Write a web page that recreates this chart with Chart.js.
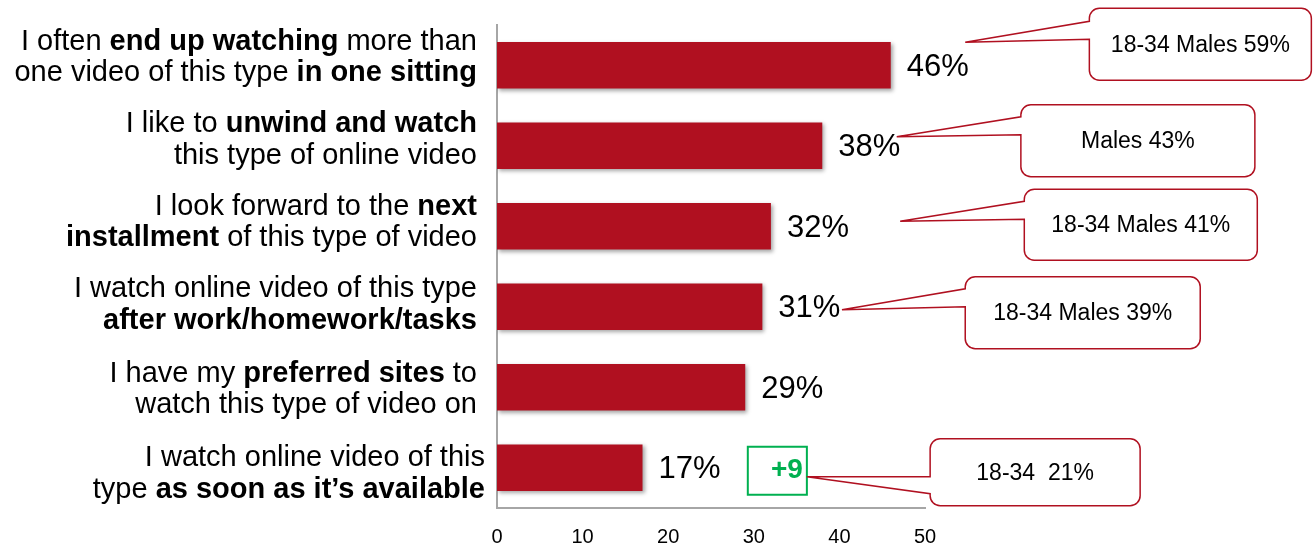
<!DOCTYPE html>
<html>
<head>
<meta charset="utf-8">
<script src="https://cdn.jsdelivr.net/npm/chart.js@4"></script>
<style>
    html, body { margin: 0; padding: 0; background: #fff; }
    #wrap { width: 1314px; height: 545px; }
</style>
</head>
<body>
<div id="wrap"><canvas id="surveyChart"></canvas></div>
<script>
// statements: "**" toggles bold, "|" breaks the line
const statements = [
    "I often **end up watching** more than|one video of this type **in one sitting**",
    "I like to **unwind and watch**|this type of online video",
    "I look forward to the **next**|**installment** of this type of video",
    "I watch online video of this type|**after work/homework/tasks**",
    "I have my **preferred sites** to|watch this type of video on",
    "I watch online video of this|type **as soon as it’s available**"
];
const percents = [46, 38, 32, 31, 29, 17];
const xTicks = [0, 10, 20, 30, 40, 50];
const subgroupNotes = ["18-34 Males 59%", "Males 43%", "18-34 Males 41%", "18-34 Males 39%", null, "18-34  21%"];
const changeNotes = [null, null, null, null, null, "+9"];

const RED = "#B01020";
const GREEN = "#00B050";
const FONT = "Arial, 'Liberation Sans', sans-serif";

// callout placement: x in axis units, y as offsets from the bar centre
const calloutLayout = [
    { tip: [54.7, -23], base: [-44, -26], box: [69.2, 222, -57, 72] },
    { tip: [46.7, -9],  base: [-29, -11], box: [61.2, 234, -41, 72] },
    { tip: [47.1, -5],  base: [-25, -7],  box: [61.6, 233, -37, 71] },
    { tip: [40.3, 3],   base: [-18, 0],   box: [54.7, 235, -30, 72] },
    null,
    { tip: [36.2, 9],   base: [9, 26],    box: [50.6, 210, -29, 67] }
];
const changeBox = { from: 29.3, to: 36.2, top: -21, bottom: 27 };
const labelNudge = [-8, -6, -4, -2, 2, 6];
const labelShift = [0, 0, 0, 0, 0, 8];

function drawRich(ctx, line, right, y, size) {
    const parts = line.split("**");
    const segs = parts.map((t, i) => ({ t, bold: i % 2 === 1 })).filter(s => s.t.length);
    let total = 0;
    segs.forEach(s => {
        ctx.font = (s.bold ? "bold " : "") + size + "px " + FONT;
        s.w = ctx.measureText(s.t).width;
        total += s.w;
    });
    let x = right - total;
    segs.forEach(s => {
        ctx.font = (s.bold ? "bold " : "") + size + "px " + FONT;
        ctx.fillText(s.t, x, y);
        x += s.w;
    });
}

function calloutPath(ctx, x, y, w, h, r, b1, b2, tx, ty) {
    ctx.beginPath();
    ctx.moveTo(x + r, y);
    ctx.lineTo(x + w - r, y);
    ctx.arcTo(x + w, y, x + w, y + r, r);
    ctx.lineTo(x + w, y + h - r);
    ctx.arcTo(x + w, y + h, x + w - r, y + h, r);
    ctx.lineTo(x + r, y + h);
    ctx.arcTo(x, y + h, x, y + h - r, r);
    ctx.lineTo(x, b2);
    ctx.lineTo(tx, ty);
    ctx.lineTo(x, b1);
    ctx.lineTo(x, y + r);
    ctx.arcTo(x, y, x + r, y, r);
    ctx.closePath();
}

const barShadow = {
    id: "barShadow",
    beforeDatasetDraw(chart) {
        const ctx = chart.ctx;
        ctx.save();
        ctx.shadowColor = "rgba(0,0,0,0.35)";
        ctx.shadowBlur = 4;
        ctx.shadowOffsetX = 2;
        ctx.shadowOffsetY = 2;
    },
    afterDatasetDraw(chart) {
        chart.ctx.restore();
    }
};

const annotations = {
    id: "annotations",
    afterDraw(chart) {
        const ctx = chart.ctx;
        const xs = chart.scales.x;
        const ys = chart.scales.y;
        ctx.save();
        ctx.fillStyle = "#000";
        ctx.textBaseline = "middle";

        statements.forEach((s, i) => {
            const cy = ys.getPixelForValue(i) + labelNudge[i];
            const lines = s.split("|");
            const lh = 31.5;
            lines.forEach((ln, k) => {
                const y = cy + (k - (lines.length - 1) / 2) * lh;
                drawRich(ctx, ln, 477 + labelShift[i], y, 29);
            });
        });

        percents.forEach((v, i) => {
            const cy = ys.getPixelForValue(i);
            ctx.font = "31px " + FONT;
            ctx.textAlign = "left";
            ctx.fillStyle = "#000";
            ctx.fillText(v + "%", xs.getPixelForValue(v) + 16, cy + 2);
        });

        changeNotes.forEach((note, i) => {
            if (!note) return;
            const cy = ys.getPixelForValue(i);
            const x1 = xs.getPixelForValue(changeBox.from);
            const x2 = xs.getPixelForValue(changeBox.to);
            ctx.strokeStyle = GREEN;
            ctx.lineWidth = 2;
            ctx.strokeRect(x1, cy + changeBox.top, x2 - x1, changeBox.bottom - changeBox.top);
            ctx.fillStyle = GREEN;
            ctx.font = "bold 28px " + FONT;
            ctx.textAlign = "right";
            ctx.fillText(note, x2 - 4, cy + 3);
        });

        subgroupNotes.forEach((note, i) => {
            const c = calloutLayout[i];
            if (!note || !c) return;
            const cy = ys.getPixelForValue(i);
            const bx = xs.getPixelForValue(c.box[0]);
            const by = cy + c.box[2];
            const bw = c.box[1];
            const bh = c.box[3];
            calloutPath(ctx, bx, by, bw, bh, 10, cy + c.base[0], cy + c.base[1],
                xs.getPixelForValue(c.tip[0]), cy + c.tip[1]);
            ctx.fillStyle = "#fff";
            ctx.fill();
            ctx.strokeStyle = RED;
            ctx.lineWidth = 1.5;
            ctx.stroke();
            ctx.fillStyle = "#000";
            ctx.font = "23px " + FONT;
            ctx.textAlign = "center";
            ctx.fillText(note, bx + bw / 2, by + bh / 2 + 1);
        });
        ctx.restore();
    }
};

new Chart(document.getElementById("surveyChart"), {
    type: "bar",
    data: {
        labels: statements.map(s => s.replace(/\*\*/g, "").split("|")),
        datasets: [{
            data: percents,
            backgroundColor: RED,
            borderWidth: 0,
            barPercentage: 0.58,
            categoryPercentage: 1
        }]
    },
    options: {
        indexAxis: "y",
        responsive: true,
        maintainAspectRatio: false,
        animation: false,
        layout: { padding: { left: 495, right: 389, top: 25, bottom: 0 } },
        plugins: { legend: { display: false }, tooltip: { enabled: false } },
        scales: {
            x: {
                min: 0,
                max: 50,
                afterBuildTicks: axis => { axis.ticks = xTicks.map(v => ({ value: v })); },
                afterFit: axis => { axis.height = 37; },
                grid: { display: false },
                border: { display: true, color: "#A6A6A6", width: 2 },
                ticks: { color: "#000", font: { family: FONT, size: 20 }, padding: 9, maxRotation: 0 }
            },
            y: {
                afterFit: axis => { axis.width = 2; },
                grid: { display: false },
                border: { display: true, color: "#A6A6A6", width: 2 },
                ticks: { display: false }
            }
        }
    },
    plugins: [barShadow, annotations]
});
</script>
</body>
</html>
